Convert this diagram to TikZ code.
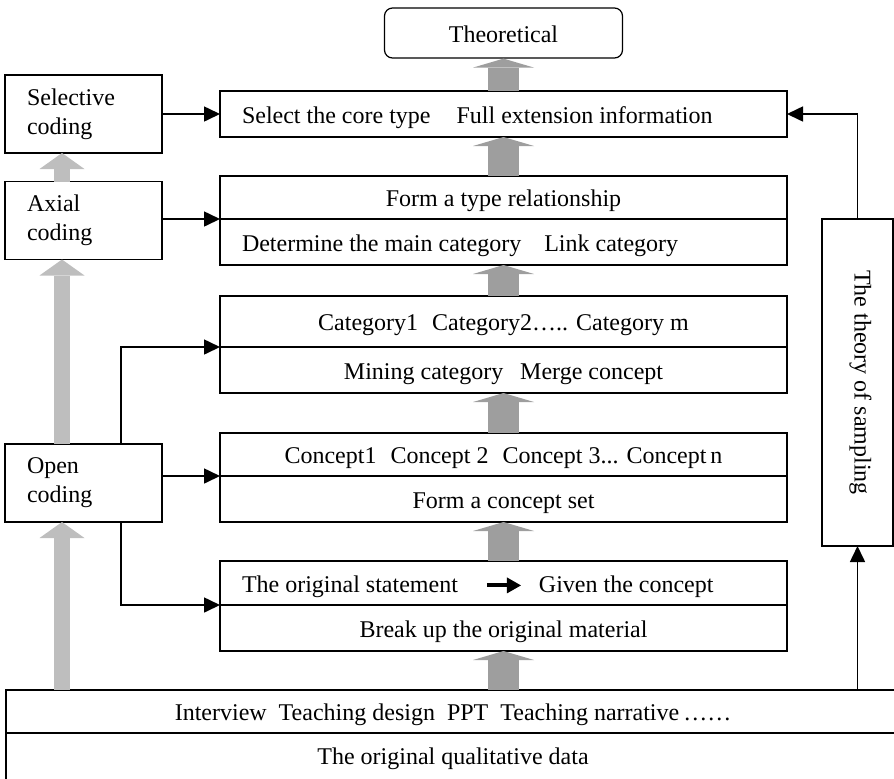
\documentclass[tikz,border=0pt]{standalone}
\usepackage{fontspec}
\setmainfont{Liberation Serif}
\usetikzlibrary{arrows.meta,positioning}
\definecolor{midgray}{RGB}{158,158,158}
\definecolor{palegray}{RGB}{190,190,190}
\tikzset{
  box/.style={draw,line width=0.6pt,outer sep=0pt,minimum width=283.5pt,
    text height=10pt,text depth=1pt,inner xsep=11pt},
  boxleft/.style={box,text width=261.5pt,align=flush left},
  side/.style={draw,line width=0.6pt,outer sep=0pt,text width=56.5pt,
    inner xsep=11pt,minimum height=39pt,align=flush left},
  conn/.style={line width=0.8pt,-{Triangle[length=8pt,width=7.5pt]}},
  flow/.style={midgray,line width=15.5pt,
    -{Triangle[length=4.5pt,width=30.5pt,line width=0pt]}},
  rise/.style={palegray,line width=8pt,
    -{Triangle[length=8pt,width=22.5pt,line width=0pt]}}
}
\begin{document}
\begin{tikzpicture}[x=0.5pt,y=-0.5pt,font=\fontsize{12}{14.5}\selectfont]
\useasboundingbox (0,0) rectangle (894,778);
%%First place the boxes of the middle column
\node[draw,rounded corners=4pt,line width=0.6pt,minimum width=119pt,
  minimum height=25pt,text height=10pt,text depth=1pt] (theo) at (503.5,33) {Theoretical};
\node[boxleft,minimum height=23pt] (sel) at (503.5,114)
  {Select the core type\hspace{13pt}Full extension information};
\node[box,minimum height=21.5pt] (form1) at (503.5,197.5) {Form a type relationship};
\node[boxleft,minimum height=23pt] (form2) [below=0pt of form1]
  {Determine the main category\hspace{11.5pt}Link category};
\node[box,minimum height=25.5pt] (cat1) at (503.5,321.5)
  {Category1\hspace{7pt}Category2….. Category m};
\node[box,minimum height=23pt] (cat2) [below=0pt of cat1]
  {Mining category\hspace{8.5pt}Merge concept};
\node[box,minimum height=21.5pt] (con1) at (503.5,454.5)
  {Concept1\hspace{7pt}Concept 2\hspace{7pt}Concept 3... Concept\,n};
\node[box,minimum height=23pt] (con2) [below=0pt of con1] {Form a concept set};
\node[boxleft,minimum height=22pt] (stm1) at (503.5,583)
  {The original statement\hspace{13.5pt}\tikz[baseline=-0.6ex]\draw[line width=2pt,
  -{Triangle[length=7pt,width=8pt,line width=0pt]}] (0pt,0pt) -- (17pt,0pt);\hspace{8pt}Given the concept};
\node[box,minimum height=23pt] (stm2) [below=0pt of stm1] {Break up the original material};
\node[box,minimum width=447pt,minimum height=21.5pt] (data1) at (453,711.5)
  {Interview\hspace{6pt}Teaching design\hspace{6pt}PPT\hspace{6pt}Teaching narrative\,……};
\node[box,minimum width=447pt,minimum height=30pt,text depth=9pt] (data2) [below=0pt of data1]
  {The original qualitative data};
%%Then the coding stages and the sampling box
\node[side] (selc) at (83.5,114) {Selective\\coding};
\node[side] (axc) at (83.5,220.5) {Axial\\coding};
\node[side] (openc) at (83.5,483) {Open\\coding};
\node[draw,line width=0.6pt,outer sep=0pt,rotate=-90,minimum width=163.5pt,
  minimum height=35.5pt,text height=8pt,text depth=5pt]
  (samp) at (857.5,382.5) {The theory of sampling};
\coordinate (lane) at (62,0);
\coordinate (tap) at (121,0);
%%Draw the grey arrows
\draw[flow] (sel.north) -- (theo.south);
\draw[flow] (form1.north) -- (sel.south);
\draw[flow] (cat1.north) -- (form2.south);
\draw[flow] (con1.north) -- (cat2.south);
\draw[flow] (stm1.north) -- (con2.south);
\draw[flow] (stm2.south |- data1.north) -- (stm2.south);
\draw[rise] (lane |- axc.north) -- (lane |- selc.south);
\draw[rise] (lane |- openc.north) -- (lane |- axc.south);
\draw[rise] (lane |- data1.north) -- (lane |- openc.south);
%%Draw the black arrows
\draw[conn] (selc.east) -- (sel.west);
\draw[conn] (axc.east |- form2.north) -- (form2.north west);
\draw[conn] (tap |- openc.north) |- (cat2.north west);
\draw[conn] (openc.east |- con2.north) -- (con2.north west);
\draw[conn] (tap |- openc.south) |- (stm2.north west);
\draw[conn] (samp.west) |- (sel.east);
\draw[conn] (samp.east |- data1.north) -- (samp.east);
\end{tikzpicture}
\end{document}
